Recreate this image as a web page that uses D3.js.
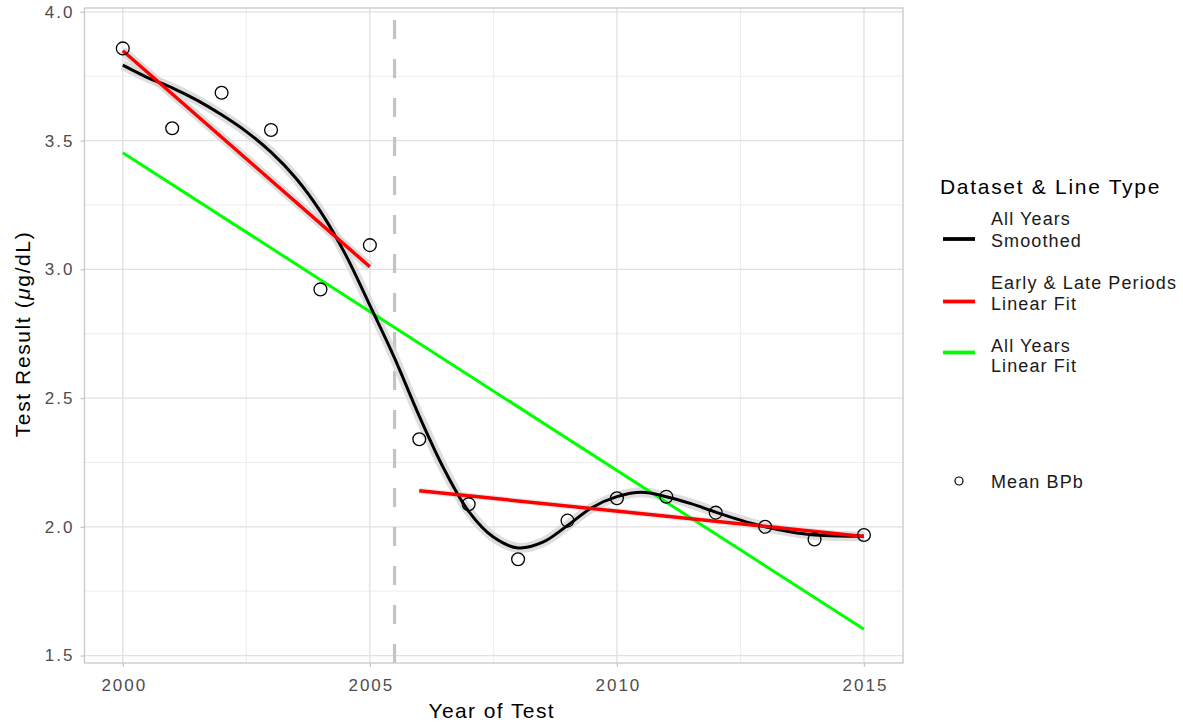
<!DOCTYPE html>
<html>
<head>
<meta charset="utf-8">
<script src="https://cdn.jsdelivr.net/npm/d3@7"></script>
<style>
  html, body { margin: 0; padding: 0; background: #fff; }
  svg { display: block; font-family: "Liberation Sans", Arial, Helvetica, sans-serif; }
</style>
</head>
<body>
<svg id="chart" width="1183" height="725"></svg>
<script>
// Mean blood lead (BPb) by year of test
const years = [2000, 2001, 2002, 2003, 2004, 2005, 2006, 2007, 2008, 2009, 2010, 2011, 2012, 2013, 2014, 2015];
const meanBPb = [3.858, 3.548, 3.686, 3.541, 2.922, 3.094, 2.340, 2.088, 1.874, 2.024, 2.111, 2.117, 2.055, 2.000, 1.951, 1.968];

// Smoothed curve over all years
const smoothYears = [2000, 2000.5, 2001, 2001.5, 2002, 2002.5, 2003, 2003.5, 2004, 2004.5, 2005, 2005.5, 2006, 2006.5, 2007, 2007.5, 2008, 2008.5, 2009, 2009.5, 2010, 2010.5, 2011, 2011.5, 2012, 2012.5, 2013, 2013.5, 2014, 2014.5, 2015];
const smoothVals = [3.793, 3.745, 3.705, 3.657, 3.600, 3.535, 3.455, 3.355, 3.225, 3.060, 2.860, 2.655, 2.430, 2.225, 2.060, 1.960, 1.918, 1.940, 2.005, 2.075, 2.117, 2.134, 2.117, 2.090, 2.057, 2.026, 2.000, 1.981, 1.968, 1.964, 1.964];

// Linear fits: early and late periods, and all years
const earlyFitYears = [2000, 2005];
const earlyFitVals = [3.849, 3.010];
const lateFitYears = [2006, 2015];
const lateFitVals = [2.140, 1.962];
const allFitYears = [2000, 2015];
const allFitVals = [3.453, 1.602];

// Break between periods
const breakYear = 2005.5;

const xTicks = [2000, 2005, 2010, 2015];
const xMinor = [2002.5, 2007.5, 2012.5];
const yTicks = [1.5, 2.0, 2.5, 3.0, 3.5, 4.0];
const yMinor = [1.75, 2.25, 2.75, 3.25, 3.75];

const legendTitle = "Dataset & Line Type";
const legendEntries = [
  { lines: ["All Years", "Smoothed"], color: "#000000" },
  { lines: ["Early & Late Periods", "Linear Fit"], color: "#ff0000" },
  { lines: ["All Years", "Linear Fit"], color: "#00ff00" }
];
const pointLabel = "Mean BPb";

const svg = d3.select("#chart");
const panel = { left: 84.5, right: 903, top: 8, bottom: 663 };

const x = d3.scaleLinear().domain([1999.225, 2015.79]).range([panel.left, panel.right]);
const y = d3.scaleLinear().domain([1.471, 4.015]).range([panel.bottom, panel.top]);

const g = svg.append("g");

// grid
g.selectAll(".xminor").data(xMinor).enter().append("line")
  .attr("x1", d => x(d)).attr("x2", d => x(d))
  .attr("y1", panel.top).attr("y2", panel.bottom)
  .attr("stroke", "#ededed").attr("stroke-width", 1);
g.selectAll(".yminor").data(yMinor).enter().append("line")
  .attr("y1", d => y(d)).attr("y2", d => y(d))
  .attr("x1", panel.left).attr("x2", panel.right)
  .attr("stroke", "#ededed").attr("stroke-width", 1);
g.selectAll(".xmajor").data(xTicks).enter().append("line")
  .attr("x1", d => x(d)).attr("x2", d => x(d))
  .attr("y1", panel.top).attr("y2", panel.bottom)
  .attr("stroke", "#e0e0e0").attr("stroke-width", 1.3);
g.selectAll(".ymajor").data(yTicks).enter().append("line")
  .attr("y1", d => y(d)).attr("y2", d => y(d))
  .attr("x1", panel.left).attr("x2", panel.right)
  .attr("stroke", "#e0e0e0").attr("stroke-width", 1.3);

// dashed break line, dashes start at the bottom
g.append("line")
  .attr("x1", x(breakYear)).attr("x2", x(breakYear))
  .attr("y1", panel.bottom).attr("y2", panel.top)
  .attr("stroke", "#c4c4c4").attr("stroke-width", 3.2)
  .attr("stroke-dasharray", "19,20");

const line = d3.line().x(d => x(d[0])).y(d => y(d[1]));
const smoothLine = d3.line().x(d => x(d[0])).y(d => y(d[1])).curve(d3.curveCatmullRom.alpha(0.5));

const smoothPts = d3.zip(smoothYears, smoothVals);
const earlyPts = d3.zip(earlyFitYears, earlyFitVals);
const latePts = d3.zip(lateFitYears, lateFitVals);
const allPts = d3.zip(allFitYears, allFitVals);

// confidence bands
g.append("path").datum(smoothPts).attr("d", smoothLine)
  .attr("fill", "none").attr("stroke", "#d6d6d6").attr("stroke-width", 10).attr("opacity", 0.8);
g.append("path").datum(earlyPts).attr("d", line)
  .attr("fill", "none").attr("stroke", "#d6d6d6").attr("stroke-width", 9).attr("opacity", 0.8);
g.append("path").datum(latePts).attr("d", line)
  .attr("fill", "none").attr("stroke", "#dcdcdc").attr("stroke-width", 6).attr("opacity", 0.7);

// fit lines
g.append("path").datum(allPts).attr("d", line)
  .attr("fill", "none").attr("stroke", "#00ff00").attr("stroke-width", 3);
g.append("path").datum(smoothPts).attr("d", smoothLine)
  .attr("fill", "none").attr("stroke", "#000").attr("stroke-width", 3);
g.append("path").datum(earlyPts).attr("d", line)
  .attr("fill", "none").attr("stroke", "#ff0000").attr("stroke-width", 3.5);
g.append("path").datum(latePts).attr("d", line)
  .attr("fill", "none").attr("stroke", "#ff0000").attr("stroke-width", 3.5);

// points
g.selectAll(".pt").data(d3.zip(years, meanBPb)).enter().append("circle")
  .attr("cx", d => x(d[0])).attr("cy", d => y(d[1])).attr("r", 6.4)
  .attr("fill", "none").attr("stroke", "#000").attr("stroke-width", 1.3);

// panel border
g.append("rect")
  .attr("x", panel.left).attr("y", panel.top)
  .attr("width", panel.right - panel.left).attr("height", panel.bottom - panel.top)
  .attr("fill", "none").attr("stroke", "#c8c8c8").attr("stroke-width", 1.3);

// axes
const xAxis = d3.axisBottom(x).tickValues(xTicks).tickFormat(d3.format("d")).tickSize(4);
const yAxis = d3.axisLeft(y).tickValues(yTicks).tickFormat(d3.format(".1f")).tickSize(4).tickPadding(6);

const gx = svg.append("g").attr("transform", `translate(0,${panel.bottom})`).call(xAxis);
const gy = svg.append("g").attr("transform", `translate(${panel.left},0)`).call(yAxis);
[gx, gy].forEach(a => {
  a.select(".domain").remove();
  a.selectAll(".tick line").attr("stroke", "#c8c8c8").attr("stroke-width", 1.3);
  a.selectAll(".tick text").attr("fill", "#4d4d4d").attr("font-size", 17)
    .attr("letter-spacing", 2)
    .attr("font-family", "'Liberation Sans', Arial, sans-serif");
});
gx.selectAll(".tick text").attr("y", 22).attr("dy", "0.36em").attr("dx", 1);

// axis titles
svg.append("text")
  .attr("x", (panel.left + panel.right) / 2 - 2).attr("y", 718)
  .attr("text-anchor", "middle").attr("font-size", 21).attr("letter-spacing", 1.4).attr("fill", "#000")
  .text("Year of Test");

const yTitle = svg.append("text")
  .attr("transform", `translate(30,334) rotate(-90)`)
  .attr("text-anchor", "middle").attr("font-size", 21).attr("letter-spacing", 1.6).attr("fill", "#000");
yTitle.append("tspan").text("Test Result (");
yTitle.append("tspan").attr("font-style", "italic").text("\u03BC");
yTitle.append("tspan").text("g/dL)");

// legend
const lg = svg.append("g");
lg.append("text").attr("x", 940).attr("y", 194).attr("font-size", 21).attr("letter-spacing", 1.7)
  .attr("fill", "#000").text(legendTitle);

const keyYs = [239, 301.5, 352.5];
const textYs = [[218, 240], [282, 303], [345, 365]];
legendEntries.forEach((e, i) => {
  const ky = keyYs[i];
  lg.append("line").attr("x1", 943).attr("x2", 975).attr("y1", ky).attr("y2", ky)
    .attr("stroke", e.color).attr("stroke-width", 3.8);
  const t = lg.append("text").attr("x", 991).attr("font-size", 18).attr("letter-spacing", 1.1).attr("fill", "#1a1a1a");
  t.append("tspan").attr("x", 991).attr("y", textYs[i][0] + 6.5).text(e.lines[0]);
  t.append("tspan").attr("x", 991).attr("y", textYs[i][1] + 6.5).text(e.lines[1]);
});

lg.append("circle").attr("cx", 959).attr("cy", 481).attr("r", 4)
  .attr("fill", "none").attr("stroke", "#000").attr("stroke-width", 1.2);
lg.append("text").attr("x", 991).attr("y", 487.5).attr("font-size", 18).attr("letter-spacing", 1.1)
  .attr("fill", "#1a1a1a").text(pointLabel);
</script>
</body>
</html>
